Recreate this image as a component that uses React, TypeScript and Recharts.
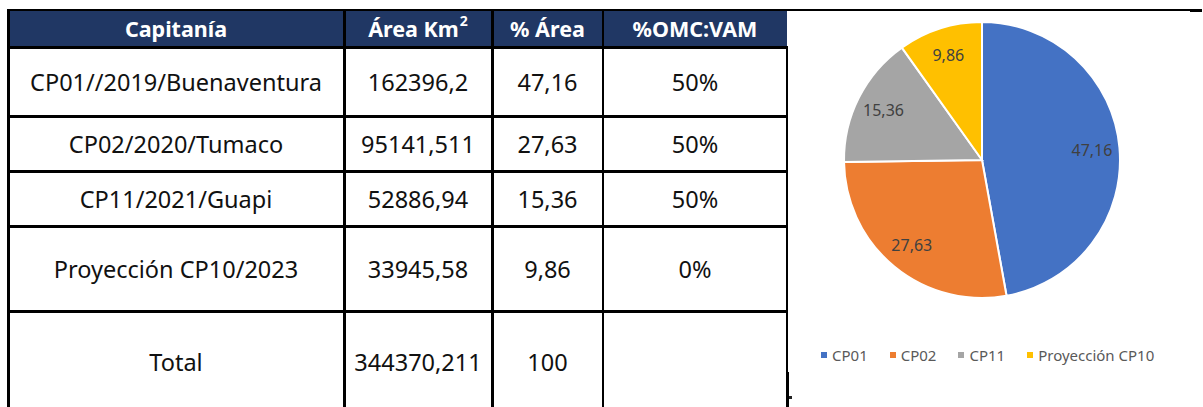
import React from "react";
import { PieChart, Pie, Cell, Legend } from "recharts";

// ---- Table data ----
const headers = ["Capitanía", "Área Km", "% Área", "%OMC:VAM"];
const capitanias = [
  "CP01//2019/Buenaventura",
  "CP02/2020/Tumaco",
  "CP11/2021/Guapi",
  "Proyección CP10/2023",
  "Total",
];
const areas = ["162396,2", "95141,511", "52886,94", "33945,58", "344370,211"];
const pctAreas = ["47,16", "27,63", "15,36", "9,86", "100"];
const omcVam = ["50%", "50%", "50%", "0%", ""];

// ---- Pie data ----
const pieNames = ["CP01", "CP02", "CP11", "Proyección CP10"];
const pieValues = [47.16, 27.63, 15.36, 9.86];
const pieColors = ["#4472C4", "#ED7D31", "#A5A5A5", "#FFC000"];

const pieData = pieNames.map((name, i) => ({ name, value: pieValues[i] }));

// layout constants
const colX = [8, 344, 492, 603, 787];
const rowY = [10, 47.5, 116.5, 171.5, 226.5, 311, 412];

const fmt = (v: number) => v.toFixed(2).replace(".", ",");

const RAD = Math.PI / 180;
const renderLabel = (props: any) => {
  const { cx, cy, midAngle, outerRadius, value } = props;
  const r = outerRadius * 0.8;
  const x = cx + r * Math.cos(-midAngle * RAD);
  const y = cy + r * Math.sin(-midAngle * RAD);
  return (
    <text
      x={x}
      y={y}
      fill="#404040"
      fontSize={16}
      fontFamily="Noto Sans, sans-serif"
      textAnchor="middle"
      dominantBaseline="central"
    >
      {fmt(value)}
    </text>
  );
};

const renderLegend = (props: any) => {
  const payload = props.payload || [];
  return (
    <div
      style={{
        display: "flex",
        alignItems: "center",
        paddingLeft: 31,
        fontFamily: "Noto Sans, sans-serif",
        fontSize: 15,
        color: "#595959",
        height: 24,
      }}
    >
      {payload.map((entry: any, i: number) => (
        <div key={i} style={{ display: "flex", alignItems: "center", marginRight: 22 }}>
          <div style={{ width: 6, height: 6, background: entry.color, marginRight: 5 }} />
          <span>{entry.value}</span>
        </div>
      ))}
    </div>
  );
};

const HLine = ({ x1, x2, y, t }: { x1: number; x2: number; y: number; t: number }) => (
  <div style={{ position: "absolute", left: x1, top: y - t / 2, width: x2 - x1, height: t, background: "#000" }} />
);
const VLine = ({ x, y1, y2, t }: { x: number; y1: number; y2: number; t: number }) => (
  <div style={{ position: "absolute", left: x - t / 2, top: y1, width: t, height: y2 - y1, background: "#000" }} />
);

export default function App() {
  const cells: React.ReactNode[] = [];
  // header
  headers.forEach((h, c) => {
    cells.push(
      <div
        key={"h" + c}
        style={{
          position: "absolute",
          left: colX[c],
          top: rowY[0],
          width: colX[c + 1] - colX[c],
          height: rowY[1] - rowY[0],
          display: "flex",
          alignItems: "center",
          justifyContent: "center",
          color: "#fff",
          fontWeight: 700,
          fontSize: 21.5,
        }}
      >
        {h}
        {c === 1 ? <span style={{ fontSize: 14, position: "relative", top: -8, marginLeft: 1 }}>2</span> : null}
      </div>
    );
  });
  const cols = [capitanias, areas, pctAreas, omcVam];
  capitanias.forEach((_, r) => {
    cols.forEach((col, c) => {
      cells.push(
        <div
          key={"c" + r + "-" + c}
          style={{
            position: "absolute",
            left: colX[c],
            top: rowY[r + 1],
            width: colX[c + 1] - colX[c],
            height: rowY[r + 2] - rowY[r + 1],
            display: "flex",
            alignItems: "center",
            justifyContent: "center",
            color: "#111",
            fontSize: 23.5,
          }}
        >
          {col[r]}
        </div>
      );
    });
  });

  return (
    <div
      style={{
        position: "absolute",
        left: 0,
        top: 0,
        width: 1203,
        height: 407,
        overflow: "hidden",
        background: "#fff",
        fontFamily: "Noto Sans, sans-serif",
      }}
    >
      {/* header background */}
      <div
        style={{
          position: "absolute",
          left: colX[0],
          top: 11,
          width: colX[4] - colX[0],
          height: 35,
          background: "#203764",
        }}
      />
      {cells}
      {/* horizontal lines */}
      <HLine x1={7} x2={1190} y={10} t={2} />
      <HLine x1={1190} x2={1202} y={10.5} t={3} />
      <HLine x1={7} x2={787} y={47.5} t={3} />
      <HLine x1={7} x2={787} y={116.5} t={3} />
      <HLine x1={7} x2={787} y={171.5} t={3} />
      <HLine x1={7} x2={787} y={226.5} t={3} />
      <HLine x1={7} x2={787} y={311} t={3} />
      {/* vertical lines */}
      <VLine x={8.5} y1={9} y2={407} t={3} />
      <VLine x={344} y1={11} y2={407} t={3} />
      <VLine x={492} y1={11} y2={407} t={3} />
      <VLine x={603} y1={11} y2={407} t={2.5} />
      <VLine x={786.5} y1={46} y2={407} t={2} />
      <VLine x={787.5} y1={372} y2={407} t={3} />
      <div style={{ position: "absolute", left: 789, top: 396, width: 3, height: 3, background: "#222" }} />

      {/* pie chart */}
      <div style={{ position: "absolute", left: 790, top: 0 }}>
        <PieChart width={413} height={407} margin={{ top: 0, right: 0, bottom: 0, left: 0 }}>
          <Pie
            data={pieData}
            dataKey="value"
            nameKey="name"
            cx={192}
            cy={160}
            outerRadius={138}
            startAngle={90}
            endAngle={-270}
            stroke="#fff"
            strokeWidth={2}
            label={renderLabel}
            labelLine={false}
            isAnimationActive={false}
          >
            {pieData.map((d, i) => (
              <Cell key={d.name} fill={pieColors[i]} />
            ))}
          </Pie>
          <Legend
            verticalAlign="bottom"
            content={renderLegend}
            wrapperStyle={{ top: 343, bottom: "auto", left: 0, width: 413, height: 24 }}
          />
        </PieChart>
      </div>
    </div>
  );
}
